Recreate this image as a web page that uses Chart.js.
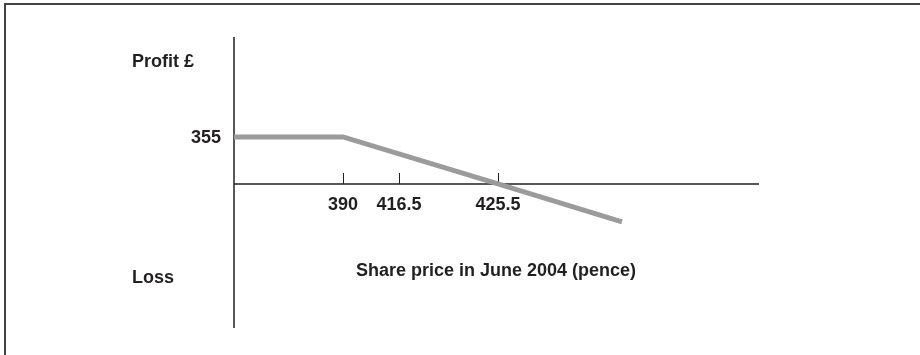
<!DOCTYPE html>
<html>
<head>
<meta charset="utf-8">
<script src="https://cdn.jsdelivr.net/npm/chart.js@4.4.1/dist/chart.umd.min.js"></script>
<style>
  html, body { margin: 0; padding: 0; background: #fff; }
  #wrap { width: 920px; height: 355px; position: relative; }
</style>
</head>
<body>
<div id="wrap"><canvas id="chart" width="920" height="355"></canvas></div>
<script>
// schematic x positions (the original is not drawn to scale)
const tickPos = [109, 165, 264];
const tickLabels = ["390", "416.5", "425.5"];

// payoff line: x in schematic units, y in £
const lineX = [0, 109, 264, 388];
const lineY = [355, 355, 0, -287];

const yLabelValue = 355;
const yTopLabel = "Profit £";
const yBottomLabel = "Loss";
const xTitle = "Share price in June 2004 (pence)";

const FONT = "bold 18px 'Liberation Sans', Arial, sans-serif";
const INK = "#231f20";

const axesPlugin = {
    id: "axes",
    beforeDatasetsDraw(chart) {
        const ctx = chart.ctx;
        const xs = chart.scales.x, ys = chart.scales.y;
        const x0 = xs.getPixelForValue(0);
        const y0 = ys.getPixelForValue(0);
        ctx.save();
        // frame (top and left only)
        ctx.strokeStyle = "#444";
        ctx.lineWidth = 2;
        ctx.beginPath();
        ctx.moveTo(4, 4);
        ctx.lineTo(920, 4);
        ctx.moveTo(5, 3);
        ctx.lineTo(5, 355);
        ctx.stroke();

        ctx.strokeStyle = INK;
        ctx.lineWidth = 1.5;
        ctx.beginPath();
        ctx.moveTo(x0, ys.top);
        ctx.lineTo(x0, ys.bottom);
        ctx.moveTo(xs.left, y0);
        ctx.lineTo(xs.right, y0);
        ctx.stroke();

        ctx.lineWidth = 1;
        ctx.beginPath();
        tickPos.forEach(v => {
            const px = Math.round(xs.getPixelForValue(v)) + 0.5;
            ctx.moveTo(px, y0);
            ctx.lineTo(px, y0 - 11);
        });
        ctx.stroke();
        ctx.restore();
    },
    afterDatasetsDraw(chart) {
        const ctx = chart.ctx;
        const xs = chart.scales.x, ys = chart.scales.y;
        const x0 = xs.getPixelForValue(0);
        const y0 = ys.getPixelForValue(0);
        ctx.save();
        ctx.font = FONT;
        ctx.fillStyle = INK;
        ctx.textBaseline = "middle";

        ctx.textAlign = "center";
        tickPos.forEach((v, i) => {
            ctx.fillText(tickLabels[i], xs.getPixelForValue(v), y0 + 21);
        });

        ctx.textAlign = "right";
        ctx.fillText(String(yLabelValue), x0 - 13, ys.getPixelForValue(yLabelValue) + 1);

        ctx.textAlign = "left";
        ctx.fillText(yTopLabel, 132, 62);
        ctx.fillText(yBottomLabel, 132, 278);

        ctx.textAlign = "center";
        ctx.fillText(xTitle, 496, 271);
        ctx.restore();
    }
};

const ctx = document.getElementById("chart").getContext("2d");
new Chart(ctx, {
    type: "scatter",
    data: {
        datasets: [
            {
                data: lineX.map((x, i) => ({ x: x, y: lineY[i] })),
                showLine: true,
                borderColor: "#9b9b9b",
                borderWidth: 5,
                pointRadius: 0,
                fill: false,
                tension: 0
            }
        ]
    },
    options: {
        responsive: false,
        animation: false,
        layout: { padding: { left: 234, right: 161, top: 37, bottom: 27 } },
        plugins: {
            legend: { display: false },
            tooltip: { enabled: false }
        },
        scales: {
            x: { type: "linear", min: 0, max: 525, display: false },
            y: { type: "linear", min: -1088, max: 1110, display: false }
        }
    },
    plugins: [axesPlugin]
});
</script>
</body>
</html>
